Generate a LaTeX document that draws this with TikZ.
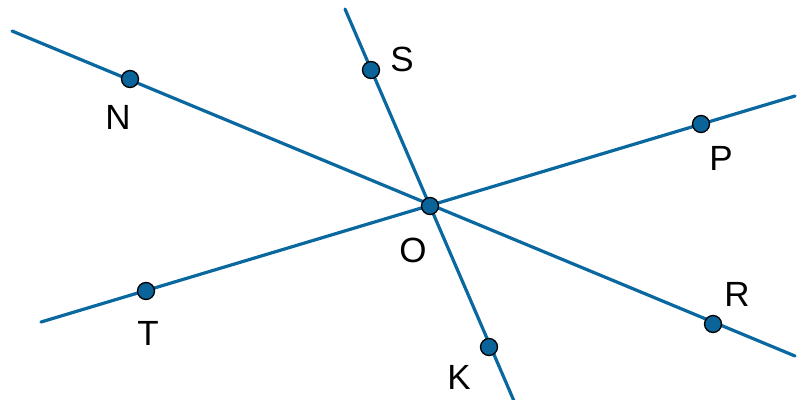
\documentclass[tikz,border=0pt]{standalone}
\usepackage{fontspec}
\setmainfont{Liberation Sans}
\definecolor{lineblue}{HTML}{0A68A0}
\definecolor{dotblue}{HTML}{0A6399}
\begin{document}
\begin{tikzpicture}[x=1pt,y=-1pt,
  ln/.style={draw=lineblue,line width=3.2pt,line cap=round},
  pt/.style={circle,fill=dotblue,draw=black,line width=1.3pt,minimum size=17pt,inner sep=0pt},
  lbl/.style={font=\fontsize{35}{40}\selectfont,inner sep=0pt}]
\useasboundingbox (0,0) rectangle (797,399);
\coordinate (a1) at (12,31);
\coordinate (a2) at (795,356);
\coordinate (b1) at (345,9);
\coordinate (b2) at (514,401);
\coordinate (c1) at (41,322);
\coordinate (c2) at (795,96);
\draw[ln] (a1) -- (a2);
\draw[ln] (b1) -- (b2);
\draw[ln] (c1) -- (c2);
\node[pt] (N) at (130,79) {};
\node[pt] (S) at (371,70) {};
\node[pt] (P) at (701,124) {};
\node[pt] (O) at (430,206) {};
\node[pt] (T) at (146,291) {};
\node[pt] (R) at (713,324) {};
\node[pt] (K) at (489,347) {};
\node[lbl] (lN) at (118,117) {N};
\node[lbl] (lS) at (402,59) {S};
\node[lbl] (lP) at (721,158) {P};
\node[lbl] (lO) at (413,250) {O};
\node[lbl] (lT) at (148,333) {T};
\node[lbl] (lR) at (737,294) {R};
\node[lbl] (lK) at (459,377) {K};
\end{tikzpicture}
\end{document}
